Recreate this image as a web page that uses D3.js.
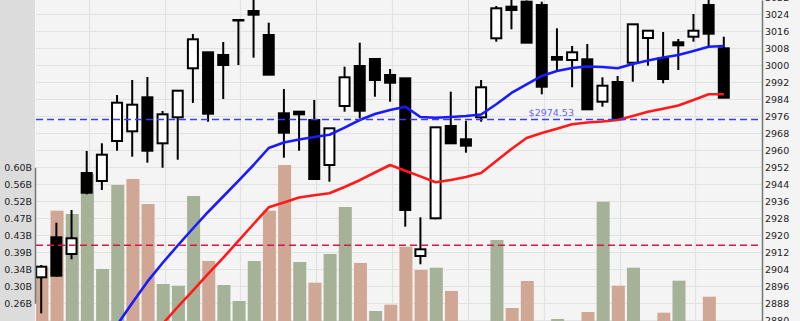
<!DOCTYPE html>
<html>
<head>
<meta charset="utf-8">
<script src="https://cdn.jsdelivr.net/npm/d3@7/dist/d3.min.js"></script>
<style>
  html, body { margin: 0; padding: 0; background: #f4f4f4; overflow: hidden; }
  svg { display: block; }
  text { font-family: "DejaVu Sans", Verdana, sans-serif; }
</style>
</head>
<body>
<svg id="chart" width="800" height="321"></svg>
<script>
// ---------------- DATA ----------------
const candleOpen = [2900.24, 2919.06, 2911.2, 2949.32, 2945.55, 2964.38, 2968.94, 2984.94, 2963.29, 2975.53, 2998.59, 3006.12, 3004.85, 3021.32, 3025.55, 3014.26, 2977.41, 2978.17, 2974.26, 2953.08, 2980.85, 2999.67, 3002.97, 2995.44, 2993.88, 2910.26, 2928.0, 2971.44, 2965.18, 2975.53, 3012.71, 3027.58, 3029.93, 3028.38, 3003.91, 3002.49, 3002.82, 2982.87, 2992.14, 3001.22, 3012.85, 3003.29, 3010.82, 3013.46, 3028.38, 3008.0];
const candleHigh = [2906.02, 2925.93, 2931.91, 2959.67, 2963.29, 2986.02, 2993.08, 2994.49, 2978.49, 2988.38, 3014.73, 3006.12, 3010.97, 3021.32, 3032.5, 3020.05, 2988.85, 2978.17, 2983.67, 2970.35, 2999.34, 3010.64, 3003.44, 2998.26, 2993.88, 2928.47, 2970.82, 2987.58, 2973.93, 2993.08, 3027.91, 3032.5, 3030.5, 3029.93, 3017.41, 3009.08, 3010.02, 2994.35, 2994.97, 3019.29, 3016.28, 3015.67, 3012.38, 3024.14, 3031.5, 3013.46];
const candleLow = [2883.29, 2900.5, 2908.71, 2939.29, 2941.32, 2959.81, 2956.99, 2954.17, 2951.81, 2955.58, 2982.26, 2973.46, 2984.14, 3000.14, 3003.58, 2995.4, 2956.52, 2959.81, 2946.02, 2945.22, 2978.17, 2975.06, 2985.22, 2982.87, 2924.05, 2906.35, 2927.53, 2963.29, 2958.87, 2973.46, 3011.11, 3016.94, 3010.64, 2986.35, 2996.99, 2989.65, 2979.29, 2980.52, 2974.59, 2992.28, 2999.81, 2991.53, 2997.79, 3011.11, 3008.75, 2984.75];
const candleClose = [2905.22, 2900.99, 2918.59, 2940.05, 2957.93, 2982.4, 2981.46, 2959.81, 2976.94, 2988.05, 3012.24, 2977.22, 3000.14, 3021.32, 3023.81, 2995.58, 2968.28, 2976.94, 2946.49, 2970.35, 2994.35, 2978.64, 2993.08, 2991.81, 2931.91, 2913.41, 2970.82, 2963.29, 2962.17, 2989.65, 3026.82, 3026.02, 3010.64, 2989.93, 3002.64, 3006.12, 2979.29, 2990.4, 2974.59, 3019.29, 3016.28, 2993.55, 3009.41, 3016.28, 3014.87, 2984.75];
const prevClose = 2910.0; // close before the first visible candle
// volumes in billions
const volume = [0.351, 0.4915, 0.4833, 0.5833, 0.3458, 0.5558, 0.5708, 0.5083, 0.3083, 0.304, 0.5283, 0.3658, 0.3058, 0.2658, 0.3658, 0.4915, 0.6058, 0.3633, 0.3115, 0.3833, 0.5008, 0.3608, 0.2408, 0.2565, 0.4015, 0.3433, 0.349, 0.2908, 0.19, 0.2, 0.4183, 0.2483, 0.3158, 0.18, 0.2208, 0.19, 0.2383, 0.514, 0.304, 0.349, 0.2, 0.2365, 0.3165, 0.19, 0.2765, 0.2];
const maFast = [null, null, null, null, 2868.38, 2877.79, 2888.14, 2898.17, 2906.97, 2915.2, 2923.2, 2930.97, 2938.26, 2945.65, 2953.08, 2961.08, 2963.67, 2965.08, 2966.26, 2967.34, 2970.64, 2974.26, 2977.08, 2978.97, 2980.52, 2975.67, 2975.34, 2975.67, 2976.14, 2976.85, 2981.65, 2986.97, 2990.97, 2994.97, 2997.32, 2998.73, 2999.44, 2999.2, 2998.59, 3000.61, 3002.26, 3003.67, 3004.85, 3006.73, 3008.75, 3009.08];
const maSlow = [null, null, null, null, null, null, null, 2870, 2878.26, 2886.26, 2894.02, 2901.79, 2909.41, 2917.32, 2925.32, 2933.18, 2935.48, 2937.79, 2938.82, 2939.77, 2942.73, 2945.93, 2949.55, 2953.08, 2950.4, 2947.72, 2944.94, 2946.02, 2947.44, 2949.32, 2954.97, 2960.61, 2965.79, 2968.14, 2970.17, 2972.24, 2973.08, 2973.55, 2974.26, 2976.14, 2978.12, 2979.58, 2981.08, 2983.67, 2986.35, 2986.35];
const lastPrice = 2974.53;
const avgVolume = 0.405;
const priceTicks = [2880, 2888, 2896, 2904, 2912, 2920, 2928, 2936, 2944, 2952, 2960, 2968, 2976, 2984, 2992, 3000, 3008, 3016, 3024, 3032];
const volTickLabels = ["0.26B", "0.30B", "0.34B", "0.39B", "0.43B", "0.47B", "0.52B", "0.56B", "0.60B"];
const priceLabel = "$2974.53";

// ---------------- LAYOUT ----------------
const W = 800, H = 321;
const plotL = 36, plotR = 762;
const svg = d3.select("#chart");

const n = candleClose.length;
const x = d3.scaleLinear().domain([0, n - 1]).range([41.2, 723.8]);
const y = d3.scaleLinear().domain([2879.67, 3030.73]).range([H, 0]);
const yVol = d3.scaleLinear().domain([0.26, 0.60]).range([y(2888), y(2952)]);
const volTickValues = volTickLabels.map((d, i) => 0.26 + i * (0.34 / (volTickLabels.length - 1)));

// backgrounds
svg.append("rect").attr("x", 0).attr("y", 0).attr("width", W).attr("height", H).attr("fill", "#f4f4f4");
svg.append("rect").attr("x", 0).attr("y", 0).attr("width", plotL - 1).attr("height", H).attr("fill", "#dcdcdc");

svg.append("defs").append("clipPath").attr("id", "plotclip")
  .append("rect").attr("x", plotL).attr("y", 0).attr("width", plotR - plotL).attr("height", H);

const plot = svg.append("g").attr("clip-path", "url(#plotclip)");

// grid
plot.append("g").selectAll("line.h").data(priceTicks).join("line")
  .attr("x1", plotL).attr("x2", plotR)
  .attr("y1", d => Math.round(y(d)) + 0.5).attr("y2", d => Math.round(y(d)) + 0.5)
  .attr("stroke", "#e2e2e2").attr("stroke-width", 1.2);
const vIdx = d3.range(3, n, 5);
plot.append("g").selectAll("line.v").data(vIdx).join("line")
  .attr("x1", d => Math.round(x(d) + 2) + 0.5).attr("x2", d => Math.round(x(d) + 2) + 0.5)
  .attr("y1", 0).attr("y2", H)
  .attr("stroke", "#e2e2e2").attr("stroke-width", 1.2);

// volume bars
const idx = d3.range(n);
const isUp = i => candleClose[i] >= (i === 0 ? prevClose : candleClose[i - 1]);
plot.append("g").selectAll("rect").data(idx).join("rect")
  .attr("x", i => x(i) + 0.7 - 6.5)
  .attr("width", 13)
  .attr("y", i => yVol(volume[i]))
  .attr("height", i => Math.max(0, H - yVol(volume[i])))
  .attr("fill", i => isUp(i) ? "#a5b297" : "#d0a794");

// candles
const cg = plot.append("g");
cg.selectAll("line").data(idx).join("line")
  .attr("x1", i => x(i)).attr("x2", i => x(i))
  .attr("y1", i => y(candleHigh[i])).attr("y2", i => y(candleLow[i]))
  .attr("stroke", "#000").attr("stroke-width", 2);
cg.selectAll("rect").data(idx).join("rect")
  .attr("x", i => x(i) - 5)
  .attr("width", 10)
  .attr("y", i => y(Math.max(candleOpen[i], candleClose[i])))
  .attr("height", i => Math.max(0.5, Math.abs(y(candleOpen[i]) - y(candleClose[i]))))
  .attr("fill", i => candleClose[i] >= candleOpen[i] ? "#ffffff" : "#000000")
  .attr("stroke", "#000").attr("stroke-width", 2);

// moving averages
const lineGen = arr => d3.line().defined(i => arr[i] !== null).x(i => x(i)).y(i => y(arr[i]))(idx);
plot.append("path").attr("d", lineGen(maSlow)).attr("fill", "none")
  .attr("stroke", "#ff1a1a").attr("stroke-width", 2.6).attr("stroke-linejoin", "round");
plot.append("path").attr("d", lineGen(maFast)).attr("fill", "none")
  .attr("stroke", "#1a1aff").attr("stroke-width", 2.6).attr("stroke-linejoin", "round");

// last price line
plot.append("line").attr("x1", plotL).attr("x2", plotR)
  .attr("y1", y(lastPrice)).attr("y2", y(lastPrice))
  .attr("stroke", "#3c3cf5").attr("stroke-width", 1.5).attr("stroke-dasharray", "7,4");
plot.append("text").attr("x", x(32) + 2).attr("y", y(lastPrice) - 3)
  .attr("font-size", "9.5px").attr("fill", "#6666ee").text(priceLabel);

// average volume line
plot.append("line").attr("x1", plotL).attr("x2", plotR)
  .attr("y1", yVol(avgVolume)).attr("y2", yVol(avgVolume))
  .attr("stroke", "#d4164a").attr("stroke-width", 1.5).attr("stroke-dasharray", "7,4");

// right price axis
const rAxis = svg.append("g").attr("transform", `translate(${plotR},0)`)
  .call(d3.axisRight(y).tickValues(priceTicks).tickSize(0).tickPadding(3).tickFormat(d3.format("d")));
rAxis.select(".domain").attr("stroke", "#707878").attr("stroke-width", 1.5);
rAxis.selectAll("text").attr("font-size", "9.5px").attr("fill", "#222").attr("font-family", "DejaVu Sans");

// left volume axis
const lAxis = svg.append("g").attr("transform", `translate(${plotL - 1},0)`)
  .call(d3.axisLeft(yVol).tickValues(volTickValues).tickSize(0).tickPadding(3)
    .tickFormat((d, i) => volTickLabels[i]));
lAxis.select(".domain").attr("stroke", "#707878").attr("stroke-width", 1.5);
lAxis.selectAll("text").attr("font-size", "9.5px").attr("fill", "#222").attr("font-family", "DejaVu Sans");
</script>
</body>
</html>
